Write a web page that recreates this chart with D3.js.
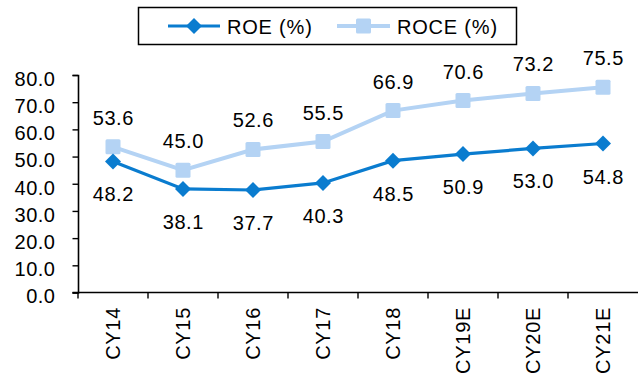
<!DOCTYPE html>
<html>
<head>
<meta charset="utf-8">
<script src="https://cdn.jsdelivr.net/npm/d3@7/dist/d3.min.js"></script>
<style>
  html, body { margin: 0; padding: 0; background: #fff; }
  svg { display: block; }
  text { font-family: "Liberation Sans", Arial, sans-serif; font-size: 20px; letter-spacing: 0.5px; fill: #000; }
  text.xlbl { letter-spacing: 0.7px; }
  text.leg { letter-spacing: 0.8px; }
</style>
</head>
<body>
<svg id="chart" width="638" height="376"></svg>
<script>
// Return ratios by calendar year (E = estimate)
const categories = ["CY14", "CY15", "CY16", "CY17", "CY18", "CY19E", "CY20E", "CY21E"];
const roe  = [48.2, 38.1, 37.7, 40.3, 48.5, 50.9, 53.0, 54.8];
const roce = [53.6, 45.0, 52.6, 55.5, 66.9, 70.6, 73.2, 75.5];
const yTicks = [0, 10, 20, 30, 40, 50, 60, 70, 80];
const seriesNames = ["ROE (%)", "ROCE (%)"];

const ROE_COLOR = "#0a7ccf";
const ROCE_COLOR = "#b4d3f4";

const svg = d3.select("#chart");
const plotLeft = 78, plotRight = 638, plotTop = 75, plotBottom = 292.5;

const x = d3.scaleBand().domain(categories).range([plotLeft, plotRight]);
const y = d3.scaleLinear().domain([0, 80]).range([plotBottom, plotTop]);

// Y axis
const yAxis = svg.append("g")
  .attr("transform", `translate(${plotLeft},0)`)
  .call(d3.axisLeft(y).tickValues(yTicks).tickFormat(d3.format(".1f")).tickSize(5.5).tickPadding(17));
yAxis.select(".domain").attr("stroke", "#000").attr("stroke-width", 1.6);
yAxis.selectAll(".tick line").attr("stroke", "#000").attr("stroke-width", 1.4);
yAxis.selectAll("text").attr("font-size", null).attr("font-family", null)
  .attr("fill", "#000").attr("dy", "0.52em");

// X axis: ticks sit on band boundaries
const xAxis = svg.append("g").attr("transform", `translate(0,${plotBottom})`);
xAxis.append("line").attr("x1", plotLeft - 5.5).attr("x2", plotRight).attr("stroke", "#000").attr("stroke-width", 1.6);
xAxis.selectAll("line.tk")
  .data(categories)
  .join("line")
  .attr("class", "tk")
  .attr("x1", d => x(d)).attr("x2", d => x(d))
  .attr("y1", 0).attr("y2", 6)
  .attr("stroke", "#000").attr("stroke-width", 1.4);
xAxis.selectAll("text")
  .data(categories)
  .join("text")
  .attr("class", "xlbl")
  .attr("transform", d => `translate(${x(d) + x.bandwidth() / 2 + 7.3},14.5) rotate(-90)`)
  .attr("text-anchor", "end")
  .text(d => d);

const cx = (d, i) => x(categories[i]) + x.bandwidth() / 2;
const line = d3.line().x(cx).y(d => y(d));

// ROCE series
svg.append("path").datum(roce)
  .attr("d", line).attr("fill", "none")
  .attr("stroke", ROCE_COLOR).attr("stroke-width", 4);
svg.selectAll("rect.roce").data(roce).join("rect")
  .attr("class", "roce")
  .attr("x", (d, i) => cx(d, i) - 7.5).attr("y", d => y(d) - 7.5)
  .attr("width", 15).attr("height", 15).attr("rx", 1.5)
  .attr("fill", ROCE_COLOR);

// ROE series
svg.append("path").datum(roe)
  .attr("d", line).attr("fill", "none")
  .attr("stroke", ROE_COLOR).attr("stroke-width", 3.2);
const diamond = "M0,-8L8,0L0,8L-8,0Z";
svg.selectAll("path.roe").data(roe).join("path")
  .attr("class", "roe")
  .attr("d", diamond)
  .attr("transform", (d, i) => `translate(${cx(d, i)},${y(d)})`)
  .attr("fill", ROE_COLOR);

// Value labels
svg.selectAll("text.roceLbl").data(roce).join("text")
  .attr("class", "roceLbl")
  .attr("x", (d, i) => cx(d, i) + 0.3).attr("y", d => y(d) - 22)
  .attr("text-anchor", "middle")
  .text(d => d.toFixed(1));
svg.selectAll("text.roeLbl").data(roe).join("text")
  .attr("class", "roeLbl")
  .attr("x", (d, i) => cx(d, i) + 0.3).attr("y", d => y(d) + 40)
  .attr("text-anchor", "middle")
  .text(d => d.toFixed(1));

// Legend
const lg = svg.append("g");
lg.append("rect").attr("x", 138.5).attr("y", 7.5).attr("width", 378).attr("height", 37)
  .attr("fill", "#fff").attr("stroke", "#000").attr("stroke-width", 1.5);
lg.append("line").attr("x1", 168).attr("x2", 220).attr("y1", 26).attr("y2", 26)
  .attr("stroke", ROE_COLOR).attr("stroke-width", 3.2);
lg.append("path").attr("d", diamond).attr("transform", "translate(194,26)").attr("fill", ROE_COLOR);
lg.append("text").attr("class", "leg").attr("x", 227).attr("y", 33.5).text(seriesNames[0]);
lg.append("line").attr("x1", 337).attr("x2", 390).attr("y1", 26).attr("y2", 26)
  .attr("stroke", ROCE_COLOR).attr("stroke-width", 4);
lg.append("rect").attr("x", 356).attr("y", 18.5).attr("width", 15).attr("height", 15).attr("rx", 1.5)
  .attr("fill", ROCE_COLOR);
lg.append("text").attr("class", "leg").attr("x", 397).attr("y", 33.5).text(seriesNames[1]);
</script>
</body>
</html>
